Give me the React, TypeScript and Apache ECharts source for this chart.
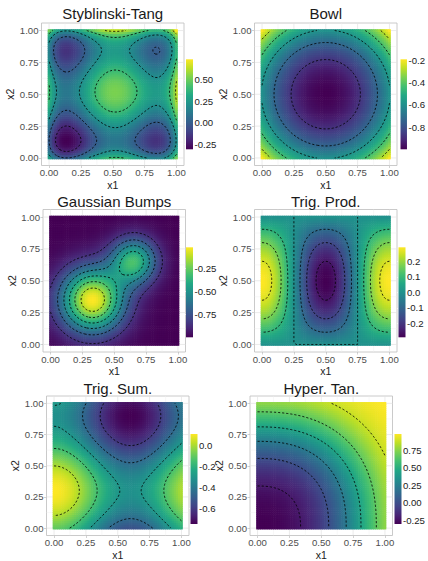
import React, { useEffect, useRef } from "react";
import * as echarts from "echarts";

const FONT = "'Liberation Sans', Arial, Helvetica, sans-serif";

// ---------------- data ----------------
const titles = ["Styblinski-Tang", "Bowl", "Gaussian Bumps", "Trig. Prod.", "Trig. Sum.", "Hyper. Tan."];
const gridSteps = 60; // cells per side of each sampled surface
const axisBreaks = [0, 0.25, 0.5, 0.75, 1];
const minorBreaks = [0.125, 0.375, 0.625, 0.875];
const legendBreaks = [
  [-0.25, 0, 0.25, 0.5],
  [-0.8, -0.6, -0.4, -0.2],
  [-0.75, -0.5, -0.25],
  [-0.2, -0.1, 0, 0.1, 0.2],
  [-0.6, -0.4, -0.2, 0],
  [-0.25, 0, 0.25, 0.5, 0.75],
];
const legendDigits = [2, 1, 2, 1, 1, 2];
const contourBreaks = [
  [-0.2, 0, 0.2, 0.4, 0.6],
  [-0.88, -0.733, -0.587, -0.44, -0.293],
  [-0.857, -0.714, -0.571, -0.429, -0.286, -0.143],
  [-0.257, -0.171, -0.086, 0, 0.086, 0.171, 0.257],
  [-0.6, -0.45, -0.3, -0.15, 0],
  [-0.217, 0, 0.217, 0.433, 0.65, 0.867],
];

// the six test surfaces on [0,1]^2
const stybG = (x: number) => {
  const t = 8 * x - 4;
  return t ** 4 - 16 * t * t + 5 * t;
};
const styblinskiTang = (x1: number, x2: number) => 0.01068 * 0.5 * (stybG(x1) + stybG(x2)) + 0.5265;
const bowl = (x1: number, x2: number) => -1 + 1.62 * ((x1 - 0.5) ** 2 + (x2 - 0.5) ** 2);
const gaussianBumps = (x1: number, x2: number) =>
  -1 +
  0.98 * Math.exp(-((x1 - 0.33) ** 2 + (x2 - 0.35) ** 2) / (2 * 0.175 ** 2)) +
  0.66 * Math.exp(-((x1 - 0.655) ** 2 + (x2 - 0.655) ** 2) / (2 * 0.127 ** 2));
const trigProd = (x1: number, x2: number) => 0.29 * Math.cos(2 * Math.PI * x1) * Math.sin(Math.PI * x2);
const trigSum = (x1: number, x2: number) =>
  -0.32 + 0.2125 * (Math.cos((2 * Math.PI * (x2 - 0.3)) / 1.2) - Math.cos((2 * Math.PI * (x1 - 0.6)) / 1.2));
const hyperTan = (x1: number, x2: number) => Math.tanh(1.29 * (x1 ** 2.44 + x2 ** 2.44) - 0.312);
const surfaces = [styblinskiTang, bowl, gaussianBumps, trigProd, trigSum, hyperTan];

// ---------------- layout / style ----------------
const PANEL = 142.5;
const panelLeft = [41.5, 254.5, 43, 254.5, 46.5, 250];
const panelTop = [23, 23, 209.5, 209.5, 396, 396];
const barLeft = [186, 400.5, 186, 398.5, 190.5, 394.5];
const barTop = [59.3, 59.3, 247.3, 247.3, 434, 434];
const titleY = [13, 13, 201, 201, 388, 388];
const VIRIDIS = [
  "#440154", "#482475", "#414487", "#355f8d", "#2a788e", "#21918c",
  "#22a884", "#44bf70", "#7ad151", "#bddf26", "#fde725",
];

const hexToRgb = (h: string) => [1, 3, 5].map((i) => parseInt(h.slice(i, i + 2), 16));
const VIR_RGB = VIRIDIS.map(hexToRgb);
function viridis(t: number) {
  const u = Math.max(0, Math.min(1, t)) * (VIR_RGB.length - 1);
  const i = Math.min(VIR_RGB.length - 2, Math.floor(u));
  const f = u - i;
  const a = VIR_RGB[i], b = VIR_RGB[i + 1];
  const c = a.map((v, k) => Math.round(v + (b[k] - v) * f));
  return `rgb(${c[0]},${c[1]},${c[2]})`;
}

// marching squares with stitching into polylines
function contourLines(z: number[][], xs: number[], level: number): number[][][] {
  const n = xs.length;
  const pts = new Map<string, number[]>();
  const segs: [string, string][] = [];
  const edgePoint = (key: string, x0: number, y0: number, v0: number, x1: number, y1: number, v1: number) => {
    if (!pts.has(key)) {
      const t = v1 === v0 ? 0.5 : (level - v0) / (v1 - v0);
      pts.set(key, [x0 + (x1 - x0) * t, y0 + (y1 - y0) * t]);
    }
    return key;
  };
  for (let j = 0; j < n - 1; j++) {
    for (let i = 0; i < n - 1; i++) {
      const a = z[j][i], b = z[j][i + 1], c = z[j + 1][i + 1], d = z[j + 1][i];
      const idx = (a >= level ? 1 : 0) | (b >= level ? 2 : 0) | (c >= level ? 4 : 0) | (d >= level ? 8 : 0);
      if (idx === 0 || idx === 15) continue;
      const X0 = xs[i], X1 = xs[i + 1], Y0 = xs[j], Y1 = xs[j + 1];
      const e = [
        () => edgePoint(`h${i},${j}`, X0, Y0, a, X1, Y0, b),
        () => edgePoint(`v${i + 1},${j}`, X1, Y0, b, X1, Y1, c),
        () => edgePoint(`h${i},${j + 1}`, X0, Y1, d, X1, Y1, c),
        () => edgePoint(`v${i},${j}`, X0, Y0, a, X0, Y1, d),
      ];
      const add = (p: number, q: number) => segs.push([e[p](), e[q]()]);
      const center = (a + b + c + d) / 4;
      switch (idx) {
        case 1: add(3, 0); break;
        case 2: add(0, 1); break;
        case 3: add(3, 1); break;
        case 4: add(1, 2); break;
        case 5: if (center >= level) { add(0, 1); add(2, 3); } else { add(3, 0); add(1, 2); } break;
        case 6: add(0, 2); break;
        case 7: add(3, 2); break;
        case 8: add(2, 3); break;
        case 9: add(0, 2); break;
        case 10: if (center >= level) { add(3, 0); add(1, 2); } else { add(0, 1); add(2, 3); } break;
        case 11: add(1, 2); break;
        case 12: add(3, 1); break;
        case 13: add(0, 1); break;
        case 14: add(3, 0); break;
      }
    }
  }
  const adj = new Map<string, number[]>();
  segs.forEach((s, k) => {
    s.forEach((key) => {
      if (!adj.has(key)) adj.set(key, []);
      adj.get(key)!.push(k);
    });
  });
  const used = new Array(segs.length).fill(false);
  const extend = (chain: string[]) => {
    for (;;) {
      const last = chain[chain.length - 1];
      const cand = (adj.get(last) || []).find((m) => !used[m]);
      if (cand === undefined) break;
      used[cand] = true;
      const s = segs[cand];
      chain.push(s[0] === last ? s[1] : s[0]);
    }
  };
  const lines: number[][][] = [];
  for (let k = 0; k < segs.length; k++) {
    if (used[k]) continue;
    used[k] = true;
    const chain = [segs[k][0], segs[k][1]];
    extend(chain);
    chain.reverse();
    extend(chain);
    lines.push(chain.map((key) => pts.get(key)!));
  }
  return lines;
}

function buildOption() {
  const xs = Array.from({ length: gridSteps + 1 }, (_, i) => i / gridSteps);
  const half = 0.5 / gridSteps;
  const ext = (1 + 2 * half) * 0.05 + half;
  const AX_MIN = -ext, AX_MAX = 1 + ext;

  const grid: any[] = [], xAxis: any[] = [], yAxis: any[] = [], series: any[] = [], graphic: any[] = [];

  surfaces.forEach((fn, k) => {
    const z = xs.map((y) => xs.map((x) => fn(x, y)));
    let lo = Infinity, hi = -Infinity;
    const cells: number[][] = [];
    xs.forEach((y, j) => xs.forEach((x, i) => {
      const v = z[j][i];
      lo = Math.min(lo, v); hi = Math.max(hi, v);
      cells.push([x, y, v]);
    }));

    // main panel
    const gi = grid.length;
    grid.push({ left: panelLeft[k], top: panelTop[k], width: PANEL, height: PANEL, show: true,
      borderColor: "#BDBDBD", borderWidth: 0.8, backgroundColor: "#ffffff" });
    const xi = xAxis.length, yi = yAxis.length;
    const common = {
      type: "value", gridIndex: gi, min: AX_MIN, max: AX_MAX,
      axisLine: { show: false, onZero: false },
      axisTick: { show: true, length: 2.5, lineStyle: { color: "#B3B3B3", width: 0.6 }, customValues: axisBreaks },
      axisLabel: { customValues: axisBreaks, formatter: (v: number) => v.toFixed(2), fontSize: 9.6, color: "#4D4D4D", fontFamily: FONT },
      splitLine: { show: false },
      nameLocation: "middle",
      nameTextStyle: { fontSize: 10.5, color: "#1A1A1A", fontFamily: FONT },
    };
    xAxis.push({ ...common, position: "bottom", name: "x1", nameGap: 13.5, axisLabel: { ...common.axisLabel, margin: 2 } });
    yAxis.push({ ...common, position: "left", name: "x2", nameGap: 24, nameRotate: 90, axisLabel: { ...common.axisLabel, margin: 3 } });

    // grid lines
    const gl: number[][] = [];
    axisBreaks.forEach((v) => { gl.push([v, 0, 1]); gl.push([v, 1, 1]); });
    minorBreaks.forEach((v) => { gl.push([v, 0, 0]); gl.push([v, 1, 0]); });
    series.push({
      type: "custom", xAxisIndex: xi, yAxisIndex: yi, data: gl, silent: true, z: 1, progressive: 0,
      encode: { x: 0, y: 1 },
      renderItem: (params: any, api: any) => {
        const v = api.value(0), o = api.value(1), major = api.value(2);
        const p1 = o === 0 ? api.coord([v, AX_MIN]) : api.coord([AX_MIN, v]);
        const p2 = o === 0 ? api.coord([v, AX_MAX]) : api.coord([AX_MAX, v]);
        return { type: "line", shape: { x1: p1[0], y1: p1[1], x2: p2[0], y2: p2[1] },
          style: { stroke: major ? "#E3E3E3" : "#EFEFEF", lineWidth: major ? 0.7 : 0.45 } };
      },
    });

    // heatmap tiles
    series.push({
      type: "custom", xAxisIndex: xi, yAxisIndex: yi, data: cells, silent: true, z: 2, progressive: 0,
      encode: { x: 0, y: 1 },
      renderItem: (params: any, api: any) => {
        const x = api.value(0), y = api.value(1), v = api.value(2);
        const p0 = api.coord([x - half, y + half]);
        const p1 = api.coord([x + half, y - half]);
        return { type: "rect", shape: { x: p0[0] - 0.3, y: p0[1] - 0.3, width: p1[0] - p0[0] + 0.6, height: p1[1] - p0[1] + 0.6 },
          style: { fill: viridis((v - lo) / (hi - lo)) } };
      },
    });

    // contours
    const polylines: number[][][] = [];
    contourBreaks[k].forEach((lv) => contourLines(z, xs, lv).forEach((l) => polylines.push(l)));
    series.push({
      type: "lines", coordinateSystem: "cartesian2d", xAxisIndex: xi, yAxisIndex: yi, polyline: true,
      silent: true, z: 3, progressive: 0,
      data: polylines.map((c) => ({ coords: c })),
      lineStyle: { color: "#000000", width: 0.95, type: [2.2, 1.9], opacity: 0.85 },
    });

    // colorbar
    const cg = grid.length;
    grid.push({ left: barLeft[k], top: barTop[k], width: 7, height: 90, show: false });
    const cxi = xAxis.length;
    xAxis.push({ type: "value", gridIndex: cg, min: 0, max: 1, show: false });
    const cyi = yAxis.length;
    yAxis.push({
      type: "value", gridIndex: cg, min: lo, max: hi, position: "right",
      axisLine: { show: false },
      axisTick: { show: true, inside: true, length: 1.6, lineStyle: { color: "#ffffff", width: 0.6 }, customValues: legendBreaks[k] },
      axisLabel: { customValues: legendBreaks[k], formatter: (v: number) => v.toFixed(legendDigits[k]), fontSize: 9.6, color: "#1A1A1A", fontFamily: FONT, margin: 1.5 },
      splitLine: { show: false },
    });
    yAxis.push({
      type: "value", gridIndex: cg, min: lo, max: hi, position: "left",
      axisLine: { show: false },
      axisTick: { show: true, inside: true, length: 1.6, lineStyle: { color: "#ffffff", width: 0.6 }, customValues: legendBreaks[k] },
      axisLabel: { show: false },
      splitLine: { show: false },
    });
    const stops = VIRIDIS.map((c, i) => ({ offset: i / (VIRIDIS.length - 1), color: c }));
    series.push({
      type: "custom", xAxisIndex: cxi, yAxisIndex: cyi, data: [[0.5, (lo + hi) / 2]], silent: true, z: 1, progressive: 0,
      encode: { x: 0, y: 1 },
      renderItem: (params: any, api: any) => {
        const p0 = api.coord([0, hi]);
        const p1 = api.coord([1, lo]);
        return { type: "rect", shape: { x: p0[0], y: p0[1], width: p1[0] - p0[0], height: p1[1] - p0[1] },
          style: { fill: new echarts.graphic.LinearGradient(0, 1, 0, 0, stops) } };
      },
    });

    // title
    graphic.push({
      type: "text", x: panelLeft[k] + PANEL / 2, y: titleY[k], silent: true,
      style: { text: titles[k], fontSize: 15, fontFamily: FONT, fill: "#1A1A1A", align: "center", verticalAlign: "middle" },
    });
  });

  return { animation: false, backgroundColor: "#ffffff", grid, xAxis, yAxis, series, graphic };
}

export default function App() {
  const ref = useRef<HTMLDivElement>(null);
  useEffect(() => {
    if (!ref.current) return;
    const chart = echarts.init(ref.current, null, { renderer: "svg" });
    chart.setOption(buildOption() as any);
    return () => chart.dispose();
  }, []);
  return <div ref={ref} style={{ position: "fixed", left: 0, top: 0, width: 428, height: 561, background: "#fff" }} />;
}
